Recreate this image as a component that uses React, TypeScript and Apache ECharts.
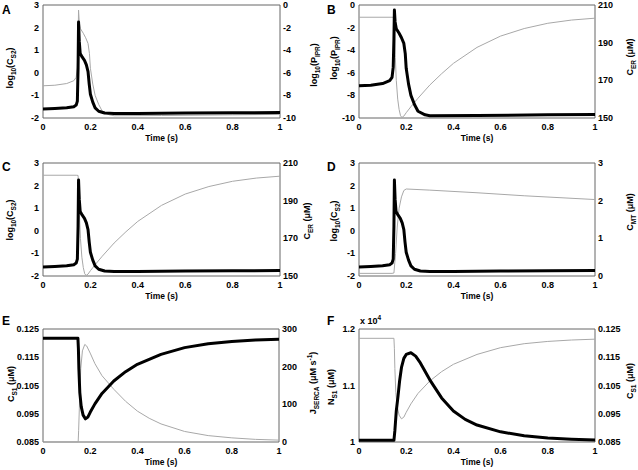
import React, { useEffect, useRef } from 'react';
import * as echarts from 'echarts';

type Pt = [number, number];

// log10(C_S2)
const cs2Log: Pt[] = [
  [0, -1.6], [0.05, -1.58], [0.1, -1.55], [0.13, -1.5], [0.14, -1.43], [0.145, -1.25], [0.148, 0.2],
  [0.15, 2.25], [0.153, 1.4], [0.157, 0.85], [0.165, 0.7], [0.175, 0.55], [0.183, 0.35], [0.19, 0.05],
  [0.195, -0.5], [0.2, -0.95], [0.21, -1.3], [0.22, -1.55], [0.235, -1.7], [0.26, -1.78], [0.3, -1.8],
  [0.4, -1.8], [0.6, -1.78], [0.8, -1.77], [1, -1.76],
];
// log10(P_IPR)
const pIprLog: Pt[] = [
  [0, -7.15], [0.05, -7.1], [0.1, -6.95], [0.13, -6.7], [0.14, -6.4], [0.145, -5.5], [0.148, -3],
  [0.15, -0.45], [0.153, -1.5], [0.158, -2.1], [0.17, -2.5], [0.18, -2.9], [0.19, -3.4], [0.196, -4.3],
  [0.2, -5.6], [0.21, -7.0], [0.22, -8.0], [0.235, -8.8], [0.25, -9.4], [0.28, -9.72], [0.3, -9.8],
  [0.5, -9.78], [0.8, -9.72], [1, -9.68],
];
// C_ER (uM)
const cEr: Pt[] = [
  [0, 203.5], [0.14, 203.5], [0.148, 203.4], [0.151, 197], [0.154, 182], [0.158, 170], [0.164, 160],
  [0.17, 154.5], [0.176, 151.2], [0.182, 150.3], [0.19, 151], [0.2, 152.8], [0.22, 156], [0.25, 160.5],
  [0.3, 167.5], [0.35, 173.5], [0.4, 179], [0.5, 187.5], [0.6, 193.5], [0.7, 197.5], [0.8, 200.3],
  [0.9, 202], [1, 203],
];
// C_MT (uM)
const cMt: Pt[] = [
  [0, 0.07], [0.14, 0.07], [0.148, 0.08], [0.155, 0.6], [0.162, 1.3], [0.17, 1.8], [0.18, 2.1],
  [0.19, 2.27], [0.2, 2.31], [0.3, 2.28], [0.5, 2.21], [0.7, 2.13], [1, 2.03],
];
// C_S1 (uM)
const cS1: Pt[] = [
  [0, 0.1217], [0.148, 0.1217], [0.15, 0.118], [0.152, 0.111], [0.156, 0.1025], [0.162, 0.0975],
  [0.17, 0.0945], [0.18, 0.0932], [0.19, 0.0938], [0.2, 0.0955], [0.22, 0.0985], [0.25, 0.1022],
  [0.3, 0.1066], [0.35, 0.1099], [0.4, 0.1125], [0.5, 0.116], [0.6, 0.1184], [0.7, 0.1198],
  [0.8, 0.1206], [0.9, 0.1211], [1, 0.1214],
];
// J_SERCA (uM s^-1)
const jSerca: Pt[] = [
  [0, 0], [0.149, 0], [0.151, 30], [0.155, 110], [0.16, 195], [0.167, 242], [0.177, 259], [0.185, 255],
  [0.2, 236], [0.22, 208], [0.25, 176], [0.3, 140], [0.35, 108], [0.4, 82], [0.45, 63], [0.5, 48],
  [0.6, 28], [0.7, 17], [0.8, 11], [0.9, 7], [1, 5],
];
// N_S1 (uM)
const nS1: Pt[] = [
  [0, 10030], [0.148, 10030], [0.152, 10200], [0.158, 10550], [0.165, 10800], [0.172, 11080],
  [0.18, 11320], [0.19, 11480], [0.2, 11550], [0.22, 11580], [0.24, 11520], [0.26, 11400],
  [0.3, 11100], [0.35, 10780], [0.4, 10550], [0.45, 10400], [0.5, 10300], [0.6, 10180],
  [0.7, 10110], [0.8, 10070], [0.9, 10050], [1, 10035],
];

const xTicks = [0, 0.2, 0.4, 0.6, 0.8, 1];
const cs2Ticks = [-2, -1, 0, 1, 2, 3];
const pIprTicks = [-10, -8, -6, -4, -2, 0];
const cErTicks = [150, 170, 190, 210];
const cMtTicks = [0, 1, 2, 3];
const cS1Ticks = [0.085, 0.095, 0.105, 0.115, 0.125];
const jSercaTicks = [0, 100, 200, 300];
const nS1Ticks = [10000, 11000, 12000];

const FONT = "'Liberation Sans', Arial, Helvetica, sans-serif";

const rich = {
  a: { fontSize: 9, fontWeight: 'bold', fontFamily: FONT, fill: '#000', lineHeight: 14 },
  s: { fontSize: 6.5, fontWeight: 'bold', fontFamily: FONT, fill: '#000', lineHeight: 8, verticalAlign: 'bottom' },
  p: { fontSize: 6.5, fontWeight: 'bold', fontFamily: FONT, fill: '#000', lineHeight: 8, verticalAlign: 'top' },
};

const T_CS2 = '{a|log}{s|10}{a|(C}{s|S2}{a|)}';
const T_PIPR = '{a|log}{s|10}{a|(P}{s|IPR}{a|)}';
const T_CER = '{a|C}{s|ER}{a| (μM)}';
const T_CMT = '{a|C}{s|MT}{a| (μM)}';
const T_CS1 = '{a|C}{s|S1}{a| (μM)}';
const T_JS = '{a|J}{s|SERCA}{a| (μM s}{p|-1}{a|)}';
const T_NS1 = '{a|N}{s|S1}{a| (μM)}';

interface Panel {
  letter: string;
  grid: { left: number; top: number; width: number; height: number };
  black: Pt[];
  gray: Pt[];
  lAx: { min: number; max: number; ticks: number[]; fmt?: (v: number) => string };
  rAx: { min: number; max: number; ticks: number[]; fmt?: (v: number) => string };
  lTitle: string; lPos: [number, number];
  rTitle: string; rPos: [number, number];
  letterPos: [number, number];
}

const panels: Panel[] = [
  {
    letter: 'A', grid: { left: 43, top: 5, width: 237, height: 113 }, black: cs2Log, gray: pIprLog,
    lAx: { min: -2, max: 3, ticks: cs2Ticks }, rAx: { min: -10, max: 0, ticks: pIprTicks },
    lTitle: T_CS2, lPos: [10, 68], rTitle: T_PIPR, rPos: [314, 65], letterPos: [2, 4],
  },
  {
    letter: 'B', grid: { left: 359, top: 5, width: 236, height: 113 }, black: pIprLog, gray: cEr,
    lAx: { min: -10, max: 0, ticks: pIprTicks }, rAx: { min: 150, max: 210, ticks: cErTicks },
    lTitle: T_PIPR, lPos: [334, 58], rTitle: T_CER, rPos: [630, 57], letterPos: [327, 4],
  },
  {
    letter: 'C', grid: { left: 43, top: 163, width: 237, height: 113 }, black: cs2Log, gray: cEr,
    lAx: { min: -2, max: 3, ticks: cs2Ticks }, rAx: { min: 150, max: 210, ticks: cErTicks },
    lTitle: T_CS2, lPos: [10, 220], rTitle: T_CER, rPos: [307, 221], letterPos: [2, 161],
  },
  {
    letter: 'D', grid: { left: 359, top: 163, width: 236, height: 113 }, black: cs2Log, gray: cMt,
    lAx: { min: -2, max: 3, ticks: cs2Ticks }, rAx: { min: 0, max: 3, ticks: cMtTicks },
    lTitle: T_CS2, lPos: [334, 221], rTitle: T_CMT, rPos: [630, 212], letterPos: [327, 161],
  },
  {
    letter: 'E', grid: { left: 43, top: 329, width: 236, height: 113 }, black: cS1, gray: jSerca,
    lAx: { min: 0.085, max: 0.125, ticks: cS1Ticks, fmt: (v) => v.toFixed(3) },
    rAx: { min: 0, max: 300, ticks: jSercaTicks },
    lTitle: T_CS1, lPos: [11, 384], rTitle: T_JS, rPos: [313, 383], letterPos: [2, 315],
  },
  {
    letter: 'F', grid: { left: 359, top: 329, width: 236, height: 113 }, black: nS1, gray: cS1,
    lAx: { min: 10000, max: 12000, ticks: nS1Ticks, fmt: (v) => String(Math.round(v / 1000) / 10) },
    rAx: { min: 0.085, max: 0.125, ticks: cS1Ticks, fmt: (v) => v.toFixed(3) },
    lTitle: T_NS1, lPos: [331, 387], rTitle: T_CS1, rPos: [630, 381], letterPos: [327, 315],
  },
];

const labelStyle = { fontSize: 9, fontWeight: 'bold' as const, fontFamily: FONT, color: '#000' };

export default function App() {
  const ref = useRef<HTMLDivElement>(null);
  useEffect(() => {
    const chart = echarts.init(ref.current!, null, { renderer: 'svg' });
    const grid: any[] = [];
    const xAxis: any[] = [];
    const yAxis: any[] = [];
    const series: any[] = [];
    const graphic: any[] = [];
    panels.forEach((p, i) => {
      grid.push({ ...p.grid, show: true, borderColor: '#666', borderWidth: 1, backgroundColor: 'transparent' });
      xAxis.push({
        type: 'value', gridIndex: i, min: 0, max: 1,
        axisLine: { show: false }, axisTick: { show: false }, splitLine: { show: false },
        axisLabel: { ...labelStyle, margin: 4, customValues: xTicks, formatter: (v: number) => String(v) },
        name: 'Time (s)', nameLocation: 'middle', nameGap: 15,
        nameTextStyle: { fontSize: 8.5, fontWeight: 'bold', fontFamily: FONT, color: '#000' },
      });
      const mkY = (ax: Panel['lAx'], pos: 'left' | 'right') => ({
        type: 'value', gridIndex: i, position: pos, min: ax.min, max: ax.max,
        axisLine: { show: false }, axisTick: { show: false }, splitLine: { show: false },
        axisLabel: {
          ...labelStyle, margin: pos === 'left' ? 4 : 3, customValues: ax.ticks,
          formatter: ax.fmt ? ax.fmt : (v: number) => String(v),
        },
      });
      yAxis.push(mkY(p.lAx, 'left'));
      yAxis.push(mkY(p.rAx, 'right'));
      series.push({
        type: 'line', xAxisIndex: i, yAxisIndex: i * 2 + 1, data: p.gray, showSymbol: false,
        lineStyle: { color: '#a8a8a8', width: 1 }, z: 2,
      });
      series.push({
        type: 'line', xAxisIndex: i, yAxisIndex: i * 2, data: p.black, showSymbol: false,
        lineStyle: { color: '#000', width: 3, join: 'round' }, z: 3,
      });
      graphic.push({
        type: 'text', x: p.letterPos[0], y: p.letterPos[1],
        style: { text: p.letter, fontSize: 12, fontWeight: 'bold', fontFamily: FONT, fill: '#000', align: 'left', verticalAlign: 'top' },
      });
      graphic.push({
        type: 'text', x: p.lPos[0], y: p.lPos[1], rotation: Math.PI / 2,
        style: { text: p.lTitle, rich, align: 'center', verticalAlign: 'middle' },
      });
      graphic.push({
        type: 'text', x: p.rPos[0], y: p.rPos[1], rotation: Math.PI / 2,
        style: { text: p.rTitle, rich, align: 'center', verticalAlign: 'middle' },
      });
    });
    graphic.push({
      type: 'text', x: 360, y: 321,
      style: { text: '{a|x 10}{p|4}', rich, align: 'left', verticalAlign: 'middle' },
    });
    chart.setOption({
      animation: false,
      backgroundColor: '#fff',
      grid, xAxis, yAxis, series, graphic,
    });
    return () => chart.dispose();
  }, []);
  return <div ref={ref} style={{ position: 'fixed', left: 0, top: 0, width: 638, height: 470 }} />;
}
